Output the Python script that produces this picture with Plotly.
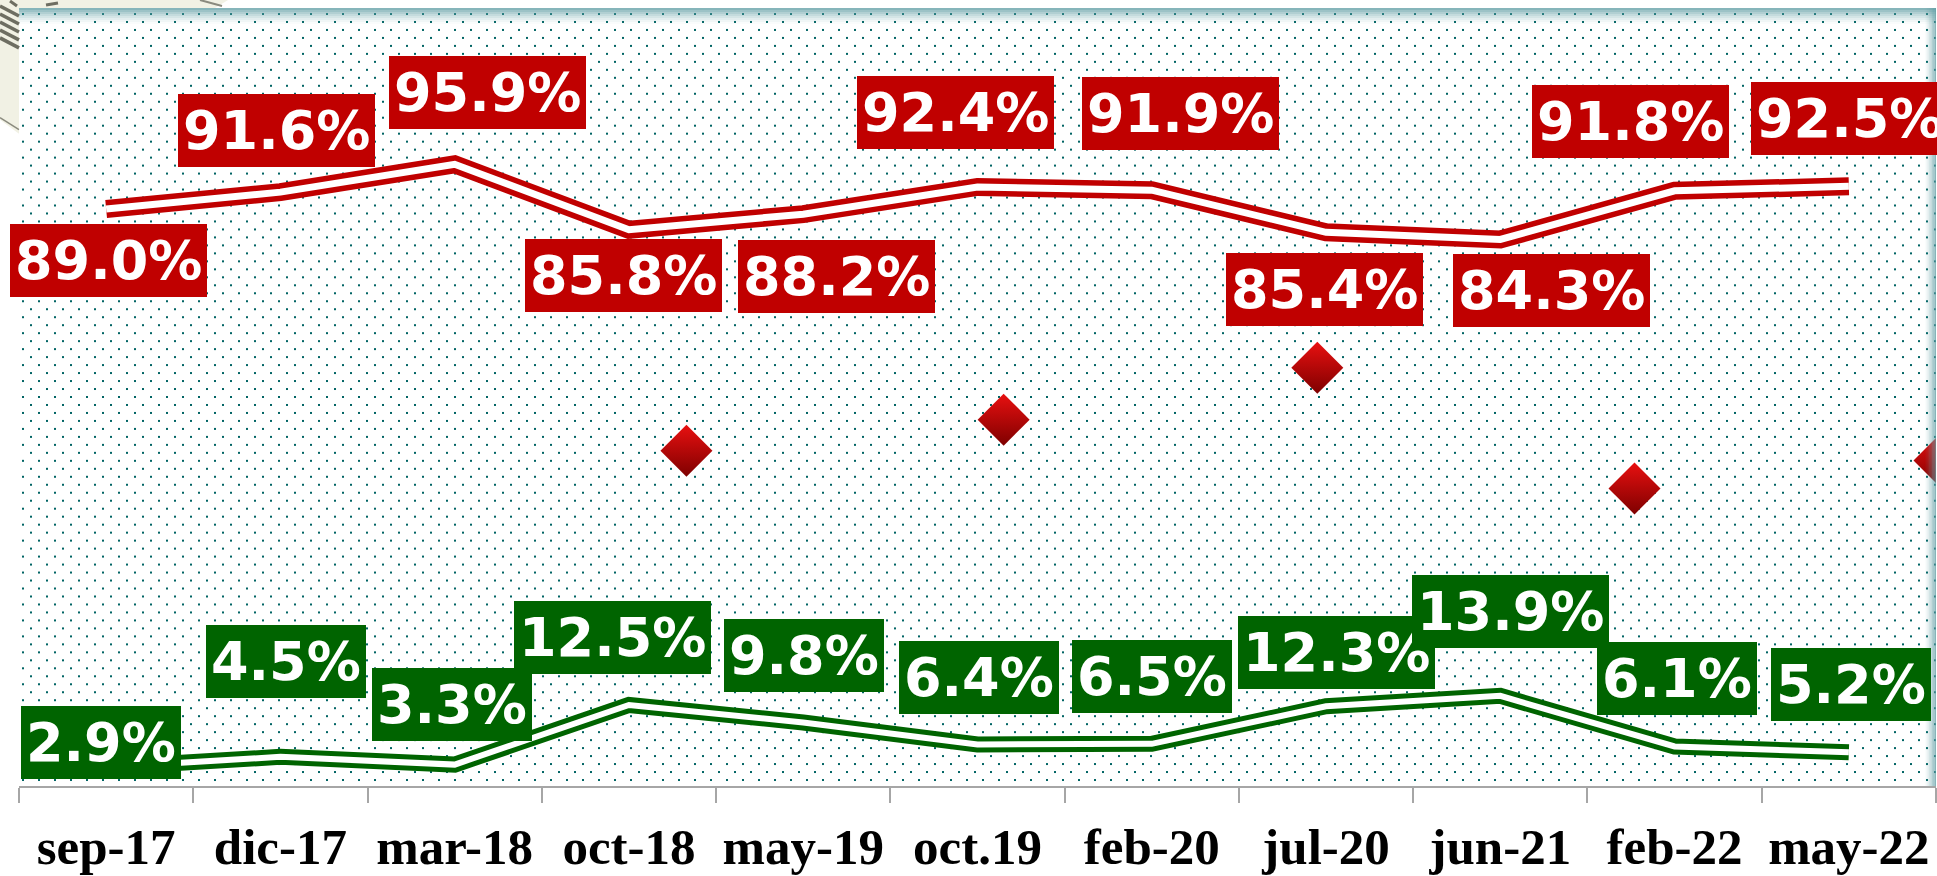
import base64
import plotly.graph_objects as go

# ---- data -------------------------------------------------------------
periods = ["sep-17", "dic-17", "mar-18", "oct-18", "may-19", "oct.19",
           "feb-20", "jul-20", "jun-21", "feb-22", "may-22"]
red_values = [89.0, 91.6, 95.9, 85.8, 88.2, 92.4, 91.9, 85.4, 84.3, 91.8, 92.5]
green_values = [2.9, 4.5, 3.3, 12.5, 9.8, 6.4, 6.5, 12.3, 13.9, 6.1, 5.2]

# secondary series of diamond markers (position in period units)
diamond_pos = [3.33, 5.15, 6.95, 8.77, 10.52]
diamond_values = [51.7, 56.5, 64.5, 45.9, 50.2]

# label offsets in pixels (dx right, dy up) from each point
red_dx = [2, -4, 33, -5, 33, -22, 29, -2, 51, -44, 1]
red_dy = [-52, 62, 72, -46, -62, 74, 77, -57, -51, 69, 68]
green_dx = [-5, 6, -3, -16, 1, 1, 0, 10, 10, 2, 2]
green_dy = [25, 95, 60, 67, 67, 67, 67, 54, 84, 68, 68]

# ---- geometry / styling ------------------------------------------------
W, H = 1937, 876
ML, MR, MT, MB = 19, 1, 8, 88
PW, PH = W - ML - MR, H - MT - MB

RED = "#C00000"
GREEN = "#006400"
TEAL_DOT = "#006464"
AXIS_GREY = "#A6A6A6"


def px_x(px):
    return (px - ML) / PW


def px_y(py):
    return (H - MB - py) / PH


# staggered dot texture for the plot area
dot_svg = (
    f"<svg xmlns='http://www.w3.org/2000/svg' width='{PW}' height='{PH}'>"
    "<defs><pattern id='dots' width='16' height='16' patternUnits='userSpaceOnUse'>"
    f"<rect x='3' y='5' width='2' height='2' fill='{TEAL_DOT}'/>"
    f"<rect x='11' y='13' width='2' height='2' fill='{TEAL_DOT}'/>"
    "</pattern></defs>"
    "<rect width='100%' height='100%' fill='white'/>"
    "<rect width='100%' height='100%' fill='url(#dots)'/></svg>"
)
dot_src = "data:image/svg+xml;base64," + base64.b64encode(dot_svg.encode()).decode()

fig = go.Figure()

# double-stroke lines: coloured outer stroke with a white core
for vals, col, w_out, w_in in [(red_values, RED, 18, 7),
                                (green_values, GREEN, 16, 6)]:
    fig.add_trace(go.Scatter(x=periods, y=vals, mode="lines",
                             line=dict(color=col, width=w_out),
                             hoverinfo="skip", showlegend=False))
    fig.add_trace(go.Scatter(x=periods, y=vals, mode="lines",
                             line=dict(color="white", width=w_in),
                             hoverinfo="skip", showlegend=False))

# diamonds
fig.add_trace(go.Scatter(
    x=diamond_pos, y=diamond_values, xaxis="x2", yaxis="y", mode="markers",
    marker=dict(symbol="diamond", size=40, color="#E81010",
                gradient=dict(type="vertical", color="#7E0000"),
                line=dict(width=0)),
    hoverinfo="skip", showlegend=False))

# value labels
annotations = []
for vals, dxs, dys, col in [(red_values, red_dx, red_dy, RED),
                            (green_values, green_dx, green_dy, GREEN)]:
    for p, v, dx, dy in zip(periods, vals, dxs, dys):
        annotations.append(dict(
            x=p, y=v, xref="x", yref="y", text=f"{v:.1f}%",
            showarrow=False, xshift=dx, yshift=dy,
            font=dict(family="DejaVu Sans", size=54, color="white",
                      weight="bold"),
            bgcolor=col, borderpad=5, borderwidth=0))

# frame decoration: inner teal shading along top and right edges
shapes = []
steps = 8
for i in range(steps):
    op = 0.75 * (1 - i / steps) ** 1.5
    shapes.append(dict(type="rect", xref="paper", yref="paper",
                       x0=0, x1=1, y0=px_y(MT + 2 * (i + 1)), y1=px_y(MT + 2 * i),
                       fillcolor="#5E9CA3", opacity=op, line=dict(width=0),
                       layer="above"))
    shapes.append(dict(type="rect", xref="paper", yref="paper",
                       x0=px_x(W - MR - 1.4 * (i + 1)), x1=px_x(W - MR - 1.4 * i),
                       y0=0, y1=1,
                       fillcolor="#5E9CA3", opacity=op, line=dict(width=0),
                       layer="above"))

# beige corner ornament in the top-left margin
shapes.append(dict(type="path", xref="paper", yref="paper",
                   path=(f"M {px_x(0)},{px_y(0)} L {px_x(228)},{px_y(0)} "
                         f"L {px_x(215)},{px_y(MT)} L {px_x(ML)},{px_y(MT)} "
                         f"L {px_x(ML)},{px_y(134)} L {px_x(0)},{px_y(120)} Z"),
                   fillcolor="#F1F1E4", line=dict(width=0), layer="below"))
for y0 in [6, 14, 22, 30, 38]:
    shapes.append(dict(type="line", xref="paper", yref="paper",
                       x0=px_x(0), y0=px_y(y0), x1=px_x(ML), y1=px_y(y0 + 10),
                       line=dict(color="#6E6E62", width=3.5), layer="below"))
shapes.append(dict(type="line", xref="paper", yref="paper",
                   x0=px_x(0), y0=px_y(118), x1=px_x(ML), y1=px_y(130),
                   line=dict(color="#8A8A7E", width=1.5), layer="below"))
shapes.append(dict(type="line", xref="paper", yref="paper",
                   x0=px_x(10), y0=px_y(1), x1=px_x(17), y1=px_y(6),
                   line=dict(color="#6E6E62", width=3), layer="below"))
shapes.append(dict(type="line", xref="paper", yref="paper",
                   x0=px_x(46), y0=px_y(5), x1=px_x(58), y1=px_y(3),
                   line=dict(color="#6E6E62", width=3), layer="below"))
shapes.append(dict(type="line", xref="paper", yref="paper",
                   x0=px_x(200), y0=px_y(0), x1=px_x(222), y1=px_y(6),
                   line=dict(color="#8A8A7E", width=2), layer="below"))

fig.update_layout(
    width=W, height=H,
    margin=dict(l=ML, r=MR, t=MT, b=MB, pad=0),
    paper_bgcolor="white", plot_bgcolor="rgba(0,0,0,0)",
    showlegend=False,
    images=[dict(source=dot_src, xref="paper", yref="paper", x=0, y=1,
                 sizex=1, sizey=1, sizing="stretch", xanchor="left",
                 yanchor="top", layer="below")],
    xaxis=dict(type="category", categoryorder="array", categoryarray=periods,
               range=[-0.5, len(periods) - 0.5],
               showline=True, linecolor=AXIS_GREY, linewidth=2,
               ticks="outside", tickson="boundaries", ticklen=15,
               tickwidth=2, tickcolor=AXIS_GREY, showgrid=False,
               zeroline=False, ticklabelstandoff=15, fixedrange=True,
               tickfont=dict(family="Liberation Serif", size=51,
                             color="black", weight="bold")),
    xaxis2=dict(overlaying="x", anchor="y", range=[-0.5, len(periods) - 0.5],
                visible=False, fixedrange=True),
    yaxis=dict(range=[0, 120], visible=False, fixedrange=True),
    annotations=annotations,
    shapes=shapes,
)

fig.write_html("out.html")
